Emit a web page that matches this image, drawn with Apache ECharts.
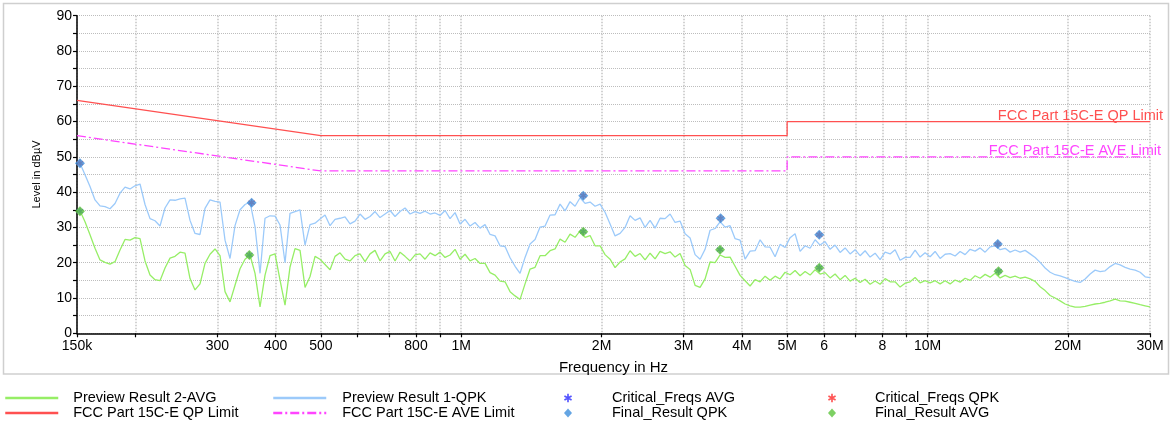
<!DOCTYPE html>
<html><head><meta charset="utf-8">
<script src="https://cdn.jsdelivr.net/npm/echarts@6/dist/echarts.min.js"></script>
<style>html,body{margin:0;padding:0;background:#fff}#c{width:1172px;height:423px}</style>
</head><body><div id="c"></div>
<script>
// ---------- data (frequencies in MHz, levels in dBµV) ----------
const freqMHz = [0.15,
0.15224,0.15605,0.15995,0.16395,0.16805,0.17225,0.17655,0.18097,0.18549,0.19013,
0.19488,0.19975,0.20475,0.20987,0.21511,0.22049,0.22600,0.23165,0.23744,0.24338,
0.24946,0.25570,0.26209,0.26864,0.27536,0.28224,0.28930,0.29653,0.30394,0.31154,
0.31933,0.32731,0.33550,0.34388,0.35248,0.36129,0.37033,0.37958,0.38907,0.39880,
0.40877,0.41899,0.42946,0.44020,0.45121,0.46249,0.47405,0.48590,0.49805,0.51050,
0.52326,0.53634,0.54975,0.56349,0.57758,0.59202,0.60682,0.62199,0.63754,0.65348,
0.66982,0.68657,0.70373,0.72132,0.73936,0.75784,0.77679,0.79621,0.81611,0.83652,
0.85743,0.87887,0.90084,0.92336,0.94644,0.97010,0.99436,1.01921,1.04469,1.07081,
1.0976,1.1250,1.1532,1.1820,1.2115,1.2418,1.2729,1.3047,1.3373,1.3707,
1.4050,1.4401,1.4761,1.5130,1.5508,1.5896,1.6294,1.6701,1.7118,1.7546,
1.7985,1.8435,1.8896,1.9368,1.9852,2.0348,2.0857,2.1379,2.1913,2.2461,
2.3022,2.3598,2.4188,2.4792,2.5412,2.6047,2.6699,2.7366,2.8050,2.8751,
2.9470,3.0207,3.0962,3.1736,3.2530,3.3343,3.4177,3.5031,3.5907,3.6805,
3.7724,3.8668,3.9634,4.0625,4.1641,4.2682,4.3749,4.4842,4.5963,4.7113,
4.8290,4.9498,5.0735,5.2003,5.3303,5.4636,5.6002,5.7402,5.8837,6.0308,
6.1816,6.3361,6.4945,6.6569,6.8233,6.9939,7.1687,7.3479,7.5316,7.7199,
7.9129,8.1107,8.3135,8.5213,8.7343,8.9527,9.1765,9.4059,9.6411,9.8821,
10.129,10.382,10.642,10.908,11.181,11.460,11.747,12.040,12.341,12.650,
12.966,13.290,13.623,13.963,14.312,14.670,15.037,15.413,15.798,16.193,
16.598,17.013,17.438,17.874,18.321,18.779,19.248,19.730,20.223,20.728,
21.246,21.778,22.322,22.880,23.452,24.038,24.639,25.255,25.887,26.534,
27.197,27.877,28.574,29.288,30.0];

const qpkLevel = [48.6,
48.2,44.9,41.6,37.8,36.1,35.9,35.3,36.8,39.7,41.4,
40.9,41.8,42.3,36.5,32.5,31.9,30.4,35.5,37.8,37.7,
38.1,38.3,32.0,28.3,28.0,35.4,37.8,37.4,37.2,26.4,
21.2,30.5,35.0,36.5,37.2,30.2,17.0,32.6,33.3,33.2,
30.7,20.0,34.0,34.5,35.0,
25.0,30.8,31.2,32.4,33.5,30.5,32.3,32.6,33.0,31.0,
31.8,33.8,32.3,33.1,34.5,32.8,33.8,34.8,33.1,34.5,
35.5,33.8,34.5,34.0,34.6,33.8,34.1,33.4,34.8,32.5,
34.2,31.0,32.3,30.4,31.4,29.8,30.8,28.0,27.6,24.8,
24.6,21.4,19.0,17.0,
21.5,25.3,26.6,30.1,30.4,33.5,33.6,36.6,34.7,37.3,
36.0,38.4,36.8,37.2,36.0,36.6,34.3,31.0,27.6,28.3,
30.0,33.3,32.0,32.7,30.0,32.0,29.8,32.6,32.5,33.8,
31.4,31.8,28.2,27.0,22.3,21.0,23.8,29.2,29.7,31.6,
30.1,30.5,
26.8,26.4,21.0,23.3,23.4,26.5,24.5,24.4,21.7,25.2,
24.3,27.1,28.2,23.2,24.8,24.1,26.5,25.0,26.0,23.8,
25.0,22.9,24.2,22.5,23.7,22.0,23.4,21.6,22.7,20.9,
23.0,22.5,23.7,20.7,21.5,21.5,23.6,21.6,22.8,21.7,
23.2,21.2,22.4,
22.6,21.9,23.2,22.3,23.8,23.3,24.2,23.0,24.5,24.8,
23.7,24.1,23.0,23.6,23.0,23.5,22.5,21.5,20.1,
18.5,17.3,16.6,16.3,15.8,15.2,14.7,14.4,15.4,16.8,
17.9,17.5,17.7,18.9,19.8,19.4,18.7,18.2,17.9,17.3,
16.0,15.8];

const avgLevel = [35.0,
34.7,31.6,27.9,24.1,20.8,20.1,19.6,20.3,23.6,26.6,
26.4,27.1,26.8,20.5,16.5,15.2,14.9,18.5,21.3,21.8,
23.0,22.7,15.5,12.3,14.0,19.8,22.4,23.9,22.0,11.8,
8.9,13.6,18.3,21.0,22.2,17.0,7.5,16.5,22.0,22.5,
15.1,8.0,18.8,24.0,23.5,
13.0,16.1,21.8,21.0,19.5,18.0,21.8,22.8,21.0,20.5,
22.0,22.5,20.3,22.5,23.5,20.5,22.5,23.2,20.5,23.0,
21.8,20.5,22.2,22.5,21.0,22.8,22.0,23.0,21.5,22.2,
23.8,21.0,22.4,20.5,21.2,19.8,19.8,17.2,16.5,14.8,
14.6,11.8,10.6,9.6,
14.0,18.2,18.7,22.0,22.0,23.4,23.9,26.7,25.8,28.1,
27.2,29.0,27.2,27.7,24.8,24.8,22.3,21.0,18.6,20.2,
21.1,23.4,21.8,22.6,20.8,22.7,21.1,23.2,22.6,23.1,
21.6,22.6,19.2,18.1,13.6,13.0,15.4,20.2,20.0,22.2,
21.5,21.6,
19.0,16.4,14.9,13.4,15.2,14.6,16.2,15.0,16.2,15.4,
17.3,16.6,17.8,16.3,17.5,16.5,18.0,16.8,17.2,15.7,
16.8,15.2,16.4,14.8,15.6,14.4,15.3,13.9,14.8,13.9,
15.5,14.6,14.6,13.1,14.2,14.6,15.8,14.3,14.9,14.3,
14.9,14.0,14.9,
14.0,15.1,14.5,15.6,15.0,16.3,15.6,16.7,15.9,17.0,
15.7,16.4,15.8,16.2,15.6,15.9,15.4,14.7,13.2,
12.1,10.7,10.0,9.2,8.3,7.8,7.4,7.4,7.6,8.0,
8.3,8.5,8.8,9.2,9.7,9.2,9.1,8.8,8.5,8.1,
7.8,7.5];

const qpLimitFreq  = [0.15, 0.5, 5, 5, 30];
const qpLimitLevel = [66, 56, 56, 60, 60];
const aveLimitFreq  = [0.15, 0.5, 5, 5, 30];
const aveLimitLevel = [56, 46, 46, 50, 50];

const finalQpkFreq  = [0.1522, 0.3553, 1.827, 3.600, 5.86, 14.15];
const finalQpkLevel = [48.2, 37.0, 39.0, 32.6, 27.9, 25.3];
const finalAvgFreq  = [0.1522, 0.3513, 1.827, 3.59, 5.86, 14.2];
const finalAvgLevel = [34.6, 22.2, 28.8, 23.7, 18.6, 17.6];

const gridFreqMHz = [0.15,0.2,0.3,0.4,0.5,0.6,0.7,0.8,0.9,1,2,3,4,5,6,7,8,9,10,20,30];
const tickLabelFreqMHz = [0.15,0.3,0.4,0.5,0.8,1,2,3,4,5,6,8,10,20,30];
const tickLabels = ['150k','300','400','500','800','1M','2M','3M','4M','5M','6','8','10M','20M','30M'];

// ---------- chart ----------
const FONT = "'Liberation Sans', Arial, sans-serif";
const lg = f => Math.log10(f * 1e6);
const pairs = (fs, vs) => fs.map((f, i) => [lg(f), vs[i]]);
const ASTER = 'path://M-1,-5L1,-5L1,5L-1,5Z M3.83,-3.366L4.83,-1.634L-3.83,3.366L-4.83,1.634Z M4.83,1.634L3.83,3.366L-4.83,-1.634L-3.83,-3.366Z';

function labelFor(v) {
  let best = 0, bd = Infinity;
  tickLabelFreqMHz.forEach((f, i) => { const d = Math.abs(lg(f) - v); if (d < bd) { bd = d; best = i; } });
  return bd < 1e-6 ? tickLabels[best] : '';
}

function withEndLabel(data, text, color, dx) {
  const last = data.length - 1;
  data[last] = { value: data[last], symbol: 'circle', symbolSize: 0,
    label: { show: true, formatter: text, position: 'top', align: 'right', distance: 0, offset: [dx, 2],
      color: color, fontSize: 14.5, fontFamily: FONT } };
  return data;
}
const qpData = withEndLabel(pairs(qpLimitFreq, qpLimitLevel), 'FCC Part 15C-E QP Limit', '#ff5050', 13);
const aveData = withEndLabel(pairs(aveLimitFreq, aveLimitLevel), 'FCC Part 15C-E AVE Limit', '#ff44ff', 11);

const legendText = pad => ({ fontFamily: FONT, fontSize: 14.5, color: '#000', lineHeight: 14, padding: [0, 0, 0, pad] });
const legendCommon = { orient: 'vertical', top: 390.5, height: 30, padding: 0, itemGap: 0, itemHeight: 10, selectedMode: false };

const warn = (freqMHz.length !== qpkLevel.length || freqMHz.length !== avgLevel.length)
  ? [{ type: 'text', left: 400, top: 40, style: { text: 'LEN ' + freqMHz.length + ' ' + qpkLevel.length + ' ' + avgLevel.length, fill: 'red', fontSize: 20 } }] : [];

const chart = echarts.init(document.getElementById('c'), null, { renderer: 'canvas' });
chart.setOption({
  animation: false,
  backgroundColor: '#fff',
  graphic: [{ type: 'rect', silent: true, z: -10, shape: { x: 3.5, y: 3.5, width: 1165, height: 370.5 },
    style: { fill: null, stroke: '#cfcfcf', lineWidth: 1.5 } }].concat(warn),
  grid: { left: 77, right: 22, top: 15.7, bottom: 89.7, containLabel: false },
  xAxis: {
    type: 'value', min: lg(0.15), max: lg(30),
    name: 'Frequency in Hz', nameLocation: 'middle', nameGap: 27,
    nameTextStyle: { fontFamily: FONT, fontSize: 15, color: '#000' },
    axisLine: { onZero: false, lineStyle: { color: '#000', width: 1.5 } },
    axisTick: { show: true, length: 4, customValues: gridFreqMHz.map(lg), lineStyle: { color: '#000', width: 1.2 } },
    axisLabel: { customValues: tickLabelFreqMHz.map(lg), formatter: labelFor, margin: 6,
      fontFamily: FONT, fontSize: 14, color: '#000' },
    splitLine: { show: true, lineStyle: { color: '#c4c4c4', type: 'dotted', width: 1.5 } }
  },
  yAxis: {
    type: 'value', min: 0, max: 90, interval: 5,
    name: 'Level in dBµV', nameLocation: 'middle', nameGap: 35,
    nameTextStyle: { fontFamily: FONT, fontSize: 11, color: '#000' },
    axisLine: { show: true, lineStyle: { color: '#000', width: 1.5 } },
    axisTick: { show: true, length: 4, lineStyle: { color: '#000', width: 1.2 } },
    axisLabel: { formatter: v => (v % 10 === 0 ? String(v) : ''), margin: 5,
      fontFamily: FONT, fontSize: 14, color: '#000' },
    splitLine: { show: true, lineStyle: { color: '#bdbdbd', type: 'dotted', width: 1 } }
  },
  legend: [
    Object.assign({}, legendCommon, { left: 4, itemWidth: 53, textStyle: legendText(10),
      lineStyle: { width: 2.5 }, itemStyle: { opacity: 0 },
      data: ['Preview Result 2-AVG', 'FCC Part 15C-E QP Limit'] }),
    Object.assign({}, legendCommon, { left: 272, itemWidth: 53, textStyle: legendText(11),
      lineStyle: { width: 2.5 }, itemStyle: { opacity: 0 },
      data: ['Preview Result 1-QPK', 'FCC Part 15C-E AVE Limit'] }),
    Object.assign({}, legendCommon, { left: 564, itemWidth: 8, itemHeight: 9, textStyle: legendText(35),
      data: ['Critical_Freqs AVG', 'Final_Result QPK'] }),
    Object.assign({}, legendCommon, { left: 828, itemWidth: 8, itemHeight: 9, textStyle: legendText(34),
      data: ['Critical_Freqs QPK', 'Final_Result AVG'] })
  ],
  series: [
    { name: 'Preview Result 2-AVG', type: 'line', data: pairs(freqMHz, avgLevel), symbol: 'none', z: 3,
      lineStyle: { color: '#96ee66', width: 1.3 }, itemStyle: { color: '#96ee66' } },
    { name: 'Preview Result 1-QPK', type: 'line', data: pairs(freqMHz, qpkLevel), symbol: 'none', z: 3,
      lineStyle: { color: '#9ccafa', width: 1.3 }, itemStyle: { color: '#9ccafa' } },
    { name: 'FCC Part 15C-E QP Limit', type: 'line', data: qpData, symbol: 'none', z: 4,
      lineStyle: { color: '#ff5050', width: 1.3 }, itemStyle: { color: '#ff5050' } },
    { name: 'FCC Part 15C-E AVE Limit', type: 'line', data: aveData, symbol: 'none', z: 4,
      lineStyle: { color: '#ff44ff', width: 1.3, type: [9, 3, 2, 3] }, itemStyle: { color: '#ff44ff' } },
    { name: 'Critical_Freqs AVG', type: 'scatter', data: pairs(finalAvgFreq, finalAvgLevel), symbol: ASTER, symbolSize: 7, z: 5,
      itemStyle: { color: '#2a2aff' } },
    { name: 'Critical_Freqs QPK', type: 'scatter', data: pairs(finalQpkFreq, finalQpkLevel), symbol: ASTER, symbolSize: 7, z: 5,
      itemStyle: { color: '#ff2a2a' } },
    { name: 'Final_Result QPK', type: 'scatter', data: pairs(finalQpkFreq, finalQpkLevel), symbol: 'diamond', symbolSize: 10, z: 6,
      itemStyle: { color: '#3d8fdc' } },
    { name: 'Final_Result AVG', type: 'scatter', data: pairs(finalAvgFreq, finalAvgLevel), symbol: 'diamond', symbolSize: 10, z: 6,
      itemStyle: { color: '#5cc43c' } }
  ]
});
</script></body></html>
